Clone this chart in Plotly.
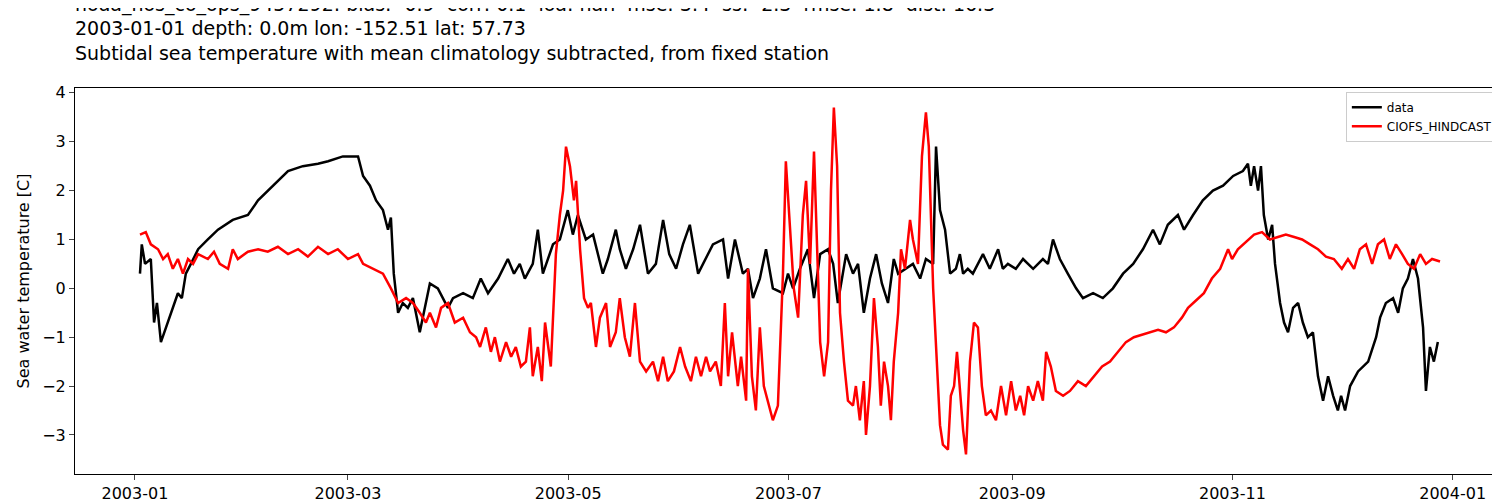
import pandas as pd
import plotly.graph_objects as go

start = pd.Timestamp('2003-01-01')

# day offsets from 2003-01-01 and values
data_days = [1.4, 1.9, 2.8, 4.4, 5.3, 6.1, 7.2, 8.6, 10.5, 11.9, 13.0, 14.1, 15.5, 17.5, 20.2, 23.0, 27.1, 31.3,
             34.1, 36.8, 39.6, 42.4, 46.5, 50.7, 53.5, 57.6, 61.8, 63.2, 65.1, 66.8, 68.7, 70.1, 70.9, 71.7, 72.9,
             74.2, 75.6, 77.0, 78.9, 81.7, 83.9, 86.7, 88.1, 90.9, 93.6, 95.8, 97.8, 100.6, 103.3, 105.0, 106.6,
             108.0, 110.2, 111.6, 113.0, 115.8, 117.7, 119.9, 121.3, 122.7, 124.9, 126.9, 129.6, 131.0, 133.2,
             134.3, 136.0, 138.0, 139.9, 142.1, 144.3, 146.3, 148.0, 149.9, 151.8, 153.7, 156.0, 157.3, 160.1,
             162.9, 164.3, 166.2, 168.4, 169.8, 171.2, 173.1, 174.8, 176.7, 179.5, 180.9, 182.3, 184.2, 186.4,
             188.1, 189.8, 192.0, 193.4, 194.7, 197.0, 198.9, 200.3, 201.9, 203.6, 205.3, 206.9, 208.6, 210.2,
             211.4, 213.6, 215.5, 217.5, 219.1, 221.1, 221.9, 223.0, 224.4, 225.8, 227.4, 228.5, 229.4, 230.7,
             232.1, 234.9, 236.8, 239.1, 240.4, 241.8, 244.0, 246.0, 248.8, 251.5, 252.9, 254.3, 256.2, 258.4,
             260.7, 262.6, 265.4, 268.1, 270.9, 273.7, 276.5, 279.2, 282.0, 283.9, 286.1, 288.9, 290.6, 293.1,
             295.8, 298.6, 301.4, 304.2, 306.9, 308.3, 309.1, 310.0, 311.1, 311.9, 312.7, 313.9, 315.0, 315.8,
             317.2, 318.3, 319.4, 320.8, 322.2, 323.5, 324.9, 326.3, 327.7, 329.1, 330.5, 331.9, 333.2, 334.1,
             335.2, 336.6, 338.8, 341.6, 343.8, 344.9, 346.5, 348.5, 349.9, 351.2, 352.6, 354.0, 355.4, 356.8,
             357.6, 358.7, 359.8, 360.9]
data_vals = [0.3, 0.9, 0.5, 0.6, -0.7, -0.3, -1.1, -0.8, -0.4, -0.1, -0.2, 0.3, 0.5, 0.8, 1.0, 1.2, 1.4, 1.5,
             1.8, 2.0, 2.2, 2.4, 2.5, 2.55, 2.6, 2.7, 2.7, 2.3, 2.1, 1.8, 1.6, 1.2, 1.45, 0.3, -0.5,
             -0.3, -0.4, -0.2, -0.9, 0.1, 0.0, -0.4, -0.2, -0.1, -0.2, 0.2, -0.1, 0.2, 0.6, 0.3, 0.5,
             0.2, 0.5, 1.2, 0.3, 0.9, 1.0, 1.6, 1.1, 1.5, 1.0, 1.1, 0.3, 0.6, 1.2,
             0.8, 0.4, 0.8, 1.3, 0.3, 0.5, 1.4, 0.7, 0.4, 0.9, 1.3, 0.3, 0.5, 0.9,
             1.0, 0.2, 1.0, 0.3, 0.4, -0.2, 0.2, 0.8, 0.0, -0.1, 0.3, 0.0, 0.4, 0.8,
             -0.2, 0.7, 0.8, 0.5, -0.3, 0.7, 0.3, 0.5, -0.5, 0.2, 0.7, 0.1, -0.3, 0.6,
             0.3, 0.4, 0.5, 0.2, 0.6, 0.5, 2.9, 1.6, 1.2, 0.3, 0.4, 0.7, 0.3, 0.4,
             0.3, 0.7, 0.4, 0.8, 0.4, 0.5, 0.4, 0.6, 0.4, 0.6, 0.5, 1.0, 0.6, 0.3,
             0.0, -0.2, -0.1, -0.2, 0.0, 0.3, 0.5, 0.8, 1.2, 0.9, 1.3, 1.5, 1.2, 1.5,
             1.8, 2.0, 2.1, 2.3, 2.4, 2.55, 2.1, 2.5, 2.0, 2.5, 1.5, 1.0, 1.3, 0.5,
             -0.3, -0.7, -0.9, -0.4, -0.3, -0.7, -1.0, -0.9, -1.8, -2.3, -1.8, -2.2, -2.5, -2.2,
             -2.5, -2.0, -1.7, -1.5, -1.0, -0.6, -0.3, -0.2, -0.5, 0.0, 0.2, 0.6, 0.2, -0.8,
             -2.1, -1.2, -1.5, -1.1]

model_days = [1.4, 3.0, 4.4, 6.4, 7.8, 9.1, 10.5, 11.9, 13.3, 14.7, 16.1, 17.5, 20.2, 21.9, 23.5, 25.8, 27.1,
              28.5, 31.3, 34.1, 36.8, 39.6, 42.4, 45.2, 47.9, 50.7, 53.5, 56.2, 59.0, 61.8, 63.2, 65.9, 68.7,
              70.9, 72.9, 75.1, 77.0, 78.9, 80.6, 81.7, 83.4, 84.8, 86.7, 88.6, 90.9, 92.8, 94.5, 95.6, 97.2,
              98.6, 99.7, 101.1, 102.8, 104.2, 105.5, 106.9, 108.3, 109.4, 110.2, 111.6, 112.7, 113.6, 115.2,
              116.6, 117.7, 118.6, 119.4, 120.5, 121.6, 122.2, 123.3, 124.4, 125.5, 126.3, 127.7, 128.8, 130.5,
              131.6, 133.2, 134.3, 135.7, 137.1, 138.5, 139.9, 141.6, 143.5, 144.9, 146.3, 147.6, 149.3, 151.0,
              152.4, 154.0, 155.4, 156.8, 158.2, 159.3, 160.9, 162.3, 163.4, 164.3, 165.4, 167.0, 167.9, 169.3,
              169.8, 170.9, 172.0, 173.1, 174.2, 175.3, 176.7, 178.1, 179.5, 180.3, 181.2, 182.5, 183.7, 185.0,
              185.9, 187.0, 188.1, 188.6, 189.8, 190.9, 192.0, 192.8, 193.6, 194.5, 195.3, 196.4, 197.5, 198.9,
              199.7, 200.8, 201.9, 202.5, 203.6, 204.7, 205.8, 206.6, 207.5, 208.6, 209.4, 210.2, 211.4, 212.2,
              213.3, 214.7, 215.5, 216.9, 218.0, 219.1, 219.9, 221.1, 221.9, 223.0, 223.8, 225.2, 226.0, 226.9,
              227.7, 228.5, 229.4, 230.2, 231.3, 232.4, 233.5, 234.6, 235.7, 237.1, 238.5, 239.9, 241.3, 242.7,
              244.0, 245.2, 246.3, 247.4, 248.8, 250.1, 251.5, 252.4, 253.7, 255.1, 257.1, 259.0, 261.2, 263.4,
              265.7, 267.9, 270.1, 272.3, 274.5, 276.7, 278.9, 281.2, 283.4, 285.6, 287.8, 290.0, 291.7, 293.9,
              296.1, 298.3, 300.6, 302.8, 303.9, 305.5, 307.8, 310.0, 312.2, 314.4, 316.6, 318.8, 321.1, 323.3,
              325.5, 327.7, 329.9, 332.1, 334.3, 336.0, 337.7, 339.3, 341.0, 342.7, 344.3, 346.0, 347.6, 349.3,
              351.0, 352.6, 354.3, 356.0, 357.6, 359.3, 361.5]
model_vals = [1.1, 1.15, 0.9, 0.8, 0.6, 0.7, 0.4, 0.6, 0.3, 0.6, 0.5, 0.7, 0.6, 0.75, 0.5, 0.4, 0.8,
              0.6, 0.75, 0.8, 0.75, 0.85, 0.7, 0.8, 0.65, 0.85, 0.7, 0.8, 0.6, 0.7, 0.5, 0.4, 0.3,
              0.0, -0.3, -0.2, -0.3, -0.5, -0.7, -0.5, -0.8, -0.4, -0.3, -0.7, -0.6, -0.9, -1.0, -1.2, -0.8,
              -1.3, -1.0, -1.5, -1.1, -1.4, -1.2, -1.6, -1.5, -0.8, -1.8, -1.2, -1.9, -0.7, -1.6,
              0.7, 1.5, 2.0, 2.9, 2.5, 1.8, 2.2, 0.8, -0.2, -0.4, -0.3, -1.2, -0.6, -0.3,
              -1.2, -0.9, -0.2, -1.0, -1.4, -0.3, -1.5, -1.7, -1.5, -1.9, -1.4, -1.9, -1.7, -1.2,
              -1.6, -1.9, -1.4, -1.8, -1.4, -1.7, -1.5, -2.0, -0.3, -1.8, -0.9, -2.0, -1.4, -2.3,
              0.4, -1.8, -2.5, -0.8, -2.0, -2.3, -2.7, -2.4, 0.3, 2.6, 1.5, 0.0, -0.6, 1.5,
              2.2, 0.5, 2.8, 1.6, -1.1, -1.8, -1.1, 2.0, 3.7, 2.5, -0.5, -1.5, -2.3, -2.4,
              -2.0, -2.7, -1.9, -3.0, -2.0, -0.2, -1.2, -2.4, -1.5, -2.0, -2.7, -1.5, -0.5, 0.8,
              0.4, 1.4, 1.0, 0.5, 2.7, 3.6, 2.9, 0.0, -1.2, -2.8, -3.2, -3.3, -2.2, -2.0,
              -1.3, -2.0, -2.9, -3.4, -1.5, -0.7, -0.8, -2.0, -2.6, -2.5, -2.7, -2.0, -2.6, -1.9,
              -2.5, -2.2, -2.6, -2.0, -2.3, -1.9, -2.3, -1.3, -1.6, -2.1, -2.2, -2.1, -1.9, -2.0,
              -1.8, -1.6, -1.5, -1.3, -1.1, -1.0, -0.95, -0.9, -0.85, -0.9, -0.8, -0.6, -0.4, -0.25,
              -0.1, 0.2, 0.4, 0.8, 0.6, 0.8, 0.95, 1.1, 1.15, 1.0, 1.05, 1.1, 1.05, 1.0,
              0.9, 0.8, 0.65, 0.6, 0.4, 0.6, 0.4, 0.8, 0.9, 0.5, 0.9, 1.0, 0.6, 0.9,
              0.7, 0.5, 0.4, 0.7, 0.5, 0.6, 0.55]

titles = ['noaa_nos_co_ops_9457292: bias: -0.9  corr: 0.1  ioa: nan  mse: 3.4  ss: -2.3  rmse: 1.8  dist: 16.3',
          '2003-01-01 depth: 0.0m lon: -152.51 lat: 57.73',
          'Subtidal sea temperature with mean climatology subtracted, from fixed station']

x_data = start + pd.to_timedelta(data_days, unit='D')
x_model = start + pd.to_timedelta(model_days, unit='D')

fig = go.Figure()
fig.add_trace(go.Scatter(x=x_data, y=data_vals, mode='lines', name='data',
                         line=dict(color='black', width=2.5)))
fig.add_trace(go.Scatter(x=x_model, y=model_vals, mode='lines', name='CIOFS_HINDCAST',
                         line=dict(color='red', width=2.5)))

fig.update_layout(
    width=1500, height=500,
    plot_bgcolor='white', paper_bgcolor='white',
    font=dict(family='DejaVu Sans', color='black'),
    margin=dict(l=67, r=3, t=80, b=34, autoexpand=False),
    title=dict(text='<br>'.join(titles), x=67 / 1500, xanchor='left',
               yref='container', y=0.995, yanchor='top', font=dict(size=19)),
    legend=dict(x=0.995, y=0.99, xanchor='right', yanchor='top', bordercolor='#cccccc', borderwidth=1,
                bgcolor='white', font=dict(size=12)),
    showlegend=True,
)
fig.update_xaxes(range=[start + pd.Timedelta(days=-16.6), start + pd.Timedelta(days=379.5)],
                 tickformat='%Y-%m', dtick='M2', tick0='2003-01-01', automargin=False,
                 showgrid=False, showline=True, linecolor='black', mirror=True,
                 ticks='outside', ticklen=5, tickfont=dict(size=16))
fig.update_yaxes(range=[-3.8, 4.1], dtick=1, showgrid=False, zeroline=False, automargin=False,
                 showline=True, linecolor='black', mirror=True,
                 ticks='outside', ticklen=5, tickfont=dict(size=16),
                 title=dict(text='Sea water temperature [C]', font=dict(size=16), standoff=8))

fig.write_html("out.html")
